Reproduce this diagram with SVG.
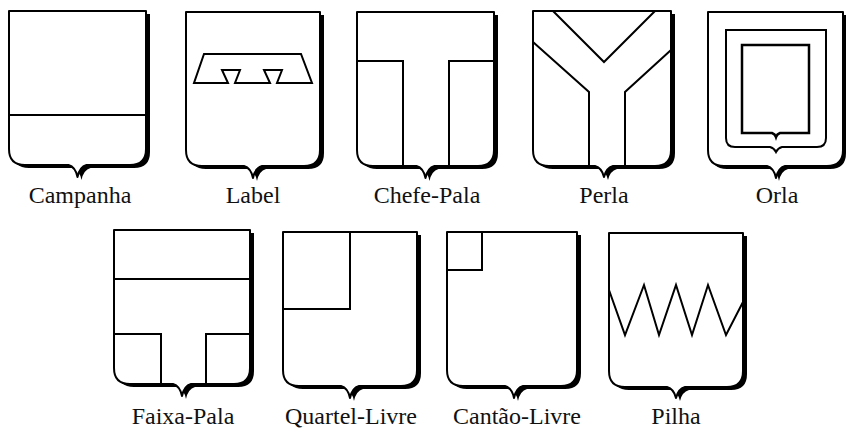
<svg xmlns="http://www.w3.org/2000/svg" xmlns:xlink="http://www.w3.org/1999/xlink" width="846" height="430" viewBox="0 0 846 430">
<style>
.sh{fill:#fff;stroke:#000;stroke-width:2;stroke-linejoin:round}
.shadow{fill:#000;stroke:none}
.ln{fill:none;stroke:#000;stroke-width:2;stroke-linejoin:miter}
.lbl{font-family:"Liberation Serif","Times New Roman",serif;font-size:24px;text-anchor:middle;fill:#111}
</style>
<defs>
<path id="s1" d="M9,11 H146 V149 Q146,165 130,165 H86.5 Q79.5,167 77.5,177 Q75.5,167 68.5,165 H25 Q9,165 9,149 Z"/>
<path id="s2" d="M186,12 H320 V150 Q320,166 304,166 H262 Q255,168 253,178 Q251,168 244,166 H202 Q186,166 186,150 Z"/>
<path id="s3" d="M357,12 H494 V150 Q494,166 478,166 H434.5 Q427.5,168 425.5,178 Q423.5,168 416.5,166 H373 Q357,166 357,150 Z"/>
<path id="s4" d="M533,11 H671 V150 Q671,166 655,166 H613 Q606,168 604,177 Q602,168 595,166 H549 Q533,166 533,150 Z"/>
<path id="s5" d="M708,12 H843 V150 Q843,166 827,166 H785 Q778,168 776,178 Q774,168 767,166 H724 Q708,166 708,150 Z"/>
<path id="s6" d="M114,230 H250 V368 Q250,384 234,384 H191 Q184,386 182,396 Q180,386 173,384 H130 Q114,384 114,368 Z"/>
<path id="s7" d="M283,232 H417 V370 Q417,386 401,386 H359 Q352,388 350,398 Q348,388 341,386 H299 Q283,386 283,370 Z"/>
<path id="s8" d="M447,232 H577 V370 Q577,386 561,386 H523 Q516,388 514,398 Q512,388 505,386 H463 Q447,386 447,370 Z"/>
<path id="s9" d="M609,233 H743 V371 Q743,387 727,387 H685 Q678,389 676,398 Q674,389 667,387 H625 Q609,387 609,371 Z"/>
</defs>

<g id="campanha">
<use xlink:href="#s1" href="#s1" class="shadow" transform="translate(4,3)"/>
<use xlink:href="#s1" href="#s1" class="sh"/>
<line class="ln" x1="9" y1="115" x2="146" y2="115"/>
<text class="lbl" x="80" y="203">Campanha</text>
</g>

<g id="label">
<use xlink:href="#s2" href="#s2" class="shadow" transform="translate(4,3)"/>
<use xlink:href="#s2" href="#s2" class="sh"/>
<polygon class="ln" points="204,54 301,54 312,83 277,83 282,70 264,70 270,83 235,83 240,70 222,70 228,83 194,83"/>
<text class="lbl" x="253" y="203">Label</text>
</g>

<g id="chefe-pala">
<use xlink:href="#s3" href="#s3" class="shadow" transform="translate(4,3)"/>
<use xlink:href="#s3" href="#s3" class="sh"/>
<polyline class="ln" points="357,61 403,61 403,166"/>
<polyline class="ln" points="494,61 449,61 449,166"/>
<text class="lbl" x="427" y="203">Chefe-Pala</text>
</g>

<g id="perla">
<use xlink:href="#s4" href="#s4" class="shadow" transform="translate(4,3)"/>
<use xlink:href="#s4" href="#s4" class="sh"/>
<polyline class="ln" points="553,11 604,62 655,11"/>
<polyline class="ln" points="533,42 589,92 589,166"/>
<polyline class="ln" points="671,50 625,92 625,166"/>
<text class="lbl" x="604" y="203">Perla</text>
</g>

<g id="orla">
<use xlink:href="#s5" href="#s5" class="shadow" transform="translate(3,3)"/>
<use xlink:href="#s5" href="#s5" class="sh"/>
<path class="ln" d="M726,30 H826 V138 Q826,147 817,147 H782 Q778,148 776,152 Q774,148 770,147 H735 Q726,147 726,138 Z"/>
<path class="ln" style="stroke-width:2.5" d="M742,45 H809 V133 H780 Q777,134 776,137 Q775,134 772,133 H742 Z"/>
<text class="lbl" x="777" y="203">Orla</text>
</g>

<g id="faixa-pala">
<use xlink:href="#s6" href="#s6" class="shadow" transform="translate(4,3)"/>
<use xlink:href="#s6" href="#s6" class="sh"/>
<line class="ln" x1="114" y1="279" x2="250" y2="279"/>
<polyline class="ln" points="114,334 161,334 161,384"/>
<polyline class="ln" points="250,334 206,334 206,384"/>
<text class="lbl" x="183" y="424">Faixa-Pala</text>
</g>

<g id="quartel-livre">
<use xlink:href="#s7" href="#s7" class="shadow" transform="translate(4,3)"/>
<use xlink:href="#s7" href="#s7" class="sh"/>
<polyline class="ln" points="350,232 350,309 283,309"/>
<text class="lbl" x="351" y="424">Quartel-Livre</text>
</g>

<g id="cantao-livre">
<use xlink:href="#s8" href="#s8" class="shadow" transform="translate(4,3)"/>
<use xlink:href="#s8" href="#s8" class="sh"/>
<polyline class="ln" points="482,232 482,270 447,270"/>
<text class="lbl" x="517" y="424">Cantão-Livre</text>
</g>

<g id="pilha">
<use xlink:href="#s9" href="#s9" class="shadow" transform="translate(4,3)"/>
<use xlink:href="#s9" href="#s9" class="sh"/>
<polyline class="ln" points="609,290 625,335 644,285 659,335 676,285 692,335 708,285 726,335 743,302"/>
<text class="lbl" x="676" y="424">Pilha</text>
</g>
</svg>
